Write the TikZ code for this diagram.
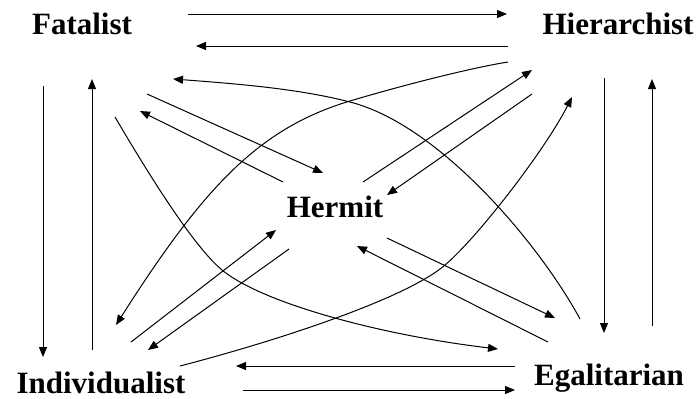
\documentclass[tikz,border=0pt]{standalone}
\usepackage{fontspec}
\setmainfont{Liberation Serif}
\usetikzlibrary{arrows.meta,calc}
\begin{document}
\begin{tikzpicture}[x=0.5pt,y=-0.5pt,
  lbl/.style={anchor=base,inner sep=0pt,font=\fontsize{15.5}{18}\selectfont\bfseries},
  arr/.style={line width=0.5pt,-{Triangle[length=5pt,width=4pt]}}]
\useasboundingbox (0,0) rectangle (699,398);
\node[lbl] (fat) at (82,34) {Fatalist};
\node[lbl] (hie) at (618,34) {Hierarchist};
\node[lbl] (her) at (335,217) {Hermit};
\node[lbl] (ind) at (101,393) {Individualist};
\node[lbl] (ega) at (609,385) {Egalitarian};
% top horizontals
\draw[arr] ($(fat.base)+(106,-20)$) -- ($(hie.base)+(-111,-20)$);
\draw[arr] ($(hie.base)+(-110,12)$) -- ($(fat.base)+(114,12)$);
% left verticals
\draw[arr] ($(fat.base)+(-39,52)$) -- ($(ind.base)+(-58,-36)$);
\draw[arr] ($(ind.base)+(-9,-43)$) -- ($(fat.base)+(10,45)$);
% right verticals
\draw[arr] ($(hie.base)+(-14,44)$) -- ($(ega.base)+(-5,-52)$);
\draw[arr] ($(ega.base)+(43,-59)$) -- ($(hie.base)+(34,45)$);
% bottom horizontals
\draw[arr] ($(ega.base)+(-94,-19)$) -- ($(ind.base)+(135,-27)$);
\draw[arr] ($(ind.base)+(142,-3)$) -- ($(ega.base)+(-94,5)$);
% to and from Hermit
\draw[arr] ($(fat.base)+(65,60)$) -- ($(her.base)+(-12,-44)$);
\draw[arr] ($(her.base)+(-52,-35)$) -- ($(fat.base)+(58,77)$);
\draw[arr] ($(her.base)+(28,-35)$) -- ($(hie.base)+(-86,36)$);
\draw[arr] ($(hie.base)+(-86,60)$) -- ($(her.base)+(52,-22)$);
\draw[arr] ($(ind.base)+(30,-51)$) -- ($(her.base)+(-59,13)$);
\draw[arr] ($(her.base)+(-46,32)$) -- ($(ind.base)+(47,-43)$);
\draw[arr] ($(her.base)+(52,21)$) -- ($(ega.base)+(-54,-67)$);
\draw[arr] ($(ega.base)+(-61,-43)$) -- ($(her.base)+(22,29)$);
% diagonal curves
\draw[arr] ($(hie.base)+(-110,28)$) .. controls (470,68) and (400,86) .. (350,101)
  .. controls (260,128) and (205,185) .. ($(ind.base)+(15,-68)$);
\draw[arr] ($(ega.base)+(-29,-66)$) .. controls (540,245) and (440,125) .. (350,102)
  .. controls (300,89) and (240,84) .. ($(fat.base)+(91,45)$);
\draw[arr] ($(fat.base)+(33,83)$) .. controls (145,168) and (192,245) .. (222,270)
  .. controls (262,303) and (380,335) .. ($(ega.base)+(-111,-36)$);
\draw[arr] ($(ind.base)+(79,-27)$) .. controls (280,340) and (407,298) .. (445,265)
  .. controls (478,237) and (545,150) .. ($(hie.base)+(-46,63)$);
\end{tikzpicture}
\end{document}
